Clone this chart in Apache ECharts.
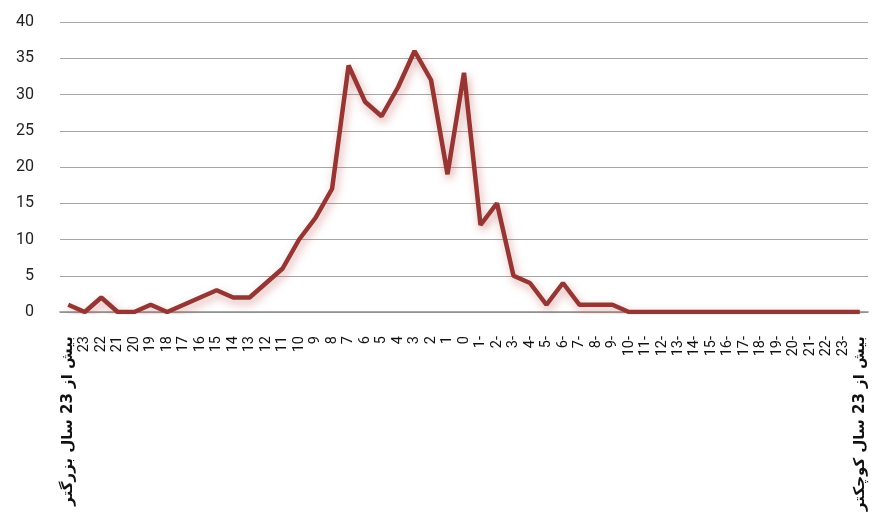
<!DOCTYPE html>
<html>
<head>
<meta charset="utf-8">
<script src="https://cdn.jsdelivr.net/npm/echarts@6/dist/echarts.min.js"></script>
<style>
html,body{margin:0;padding:0;background:#fff;}
#c{width:878px;height:516px;}
</style>
</head>
<body>
<div id="c"></div>
<script>
const olderLabel = "بیش از 23 سال بزرگتر";
const youngerLabel = "بیش از 23 سال کوچکتر";
const olderYears = ["23","22","21","20","19","18","17","16","15","14","13","12","11","10","9","8","7","6","5","4","3","2","1"];
const middle = ["0"];
const youngerYears = ["1-","2-","3-","4-","5-","6-","7-","8-","9-","10-","11-","12-","13-","14-","15-","16-","17-","18-","19-","20-","21-","22-","23-"];
const categories = [olderLabel].concat(olderYears, middle, youngerYears, [youngerLabel]);
const values = [1,0,2,0,0,1,0,1,2,3,2,2,4,6,10,13,17,34,29,27,31,36,32,19,33,12,15,5,4,1,4,1,1,1,0,0,0,0,0,0,0,0,0,0,0,0,0,0,0];
const yTicks = {min:0, max:40, interval:5};

const chart = echarts.init(document.getElementById('c'));
chart.setOption({
  animation:false,
  grid:{left:60, right:10, top:22, bottom:204, containLabel:false, outerBoundsMode:'none'},
  xAxis:{
    type:'category',
    data:categories,
    boundaryGap:true,
    axisLine:{show:true, lineStyle:{color:'#8c8c8c', width:1.5}},
    axisTick:{show:false},
    axisLabel:{interval:0, rotate:90, margin:24, color:'#111', fontSize:14.5,
      fontFamily:'Roboto, "DejaVu Sans", sans-serif',
      formatter:function(v){ return v.length > 5 ? '{big|' + v + '}' : v; },
      rich:{big:{fontSize:15, fontWeight:'bold', color:'#111', fontFamily:'"DejaVu Sans", sans-serif'}}
    }
  },
  yAxis:{
    type:'value',
    min:yTicks.min, max:yTicks.max, interval:yTicks.interval,
    axisLine:{show:false},
    axisTick:{show:false},
    axisLabel:{margin:26, color:'#222', fontSize:16, fontFamily:'Roboto, sans-serif'},
    splitLine:{lineStyle:{color:'#a6a6a6', width:1.2}}
  },
  series:[{
    type:'line',
    data:values,
    symbol:'none',
    lineStyle:{color:'#943634', width:4.5, shadowColor:'rgba(200,80,80,0.5)', shadowBlur:9, shadowOffsetX:2, shadowOffsetY:4}
  }]
});
</script>
</body>
</html>
